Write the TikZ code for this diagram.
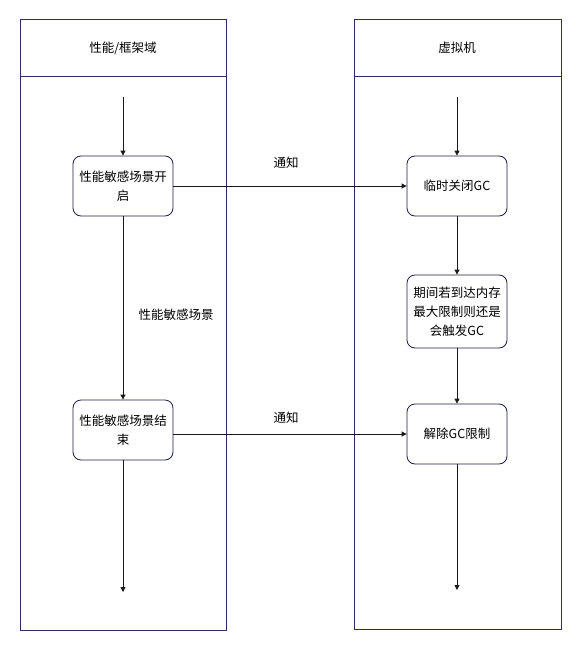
\documentclass[tikz,border=0pt]{standalone}
\usepackage{fontspec}
\setmainfont{Noto Sans CJK SC}
\usepackage{xcolor}
\usetikzlibrary{arrows.meta}

\definecolor{lanecol}{HTML}{2B2D5C}
\definecolor{boxcol}{HTML}{1C1C48}

\tikzset{
	lane/.style={draw=lanecol, line width=0.8pt},
	stepbox/.style={draw=boxcol, line width=0.8pt, rounded corners=8pt, minimum width=100pt, minimum height=60pt, align=center, inner sep=1pt, font=\fontsize{12.5}{19}\selectfont},
	flow/.style={draw=black!90, line width=0.8pt, -{Triangle[length=5pt,width=5pt]}},
	lbl/.style={font=\fontsize{12.5}{15}\selectfont}
}

\begin{document}
\begin{tikzpicture}[x=1pt,y=-1pt]

	\useasboundingbox (0,0) rectangle (582,650);

	% lanes
	\def \a {20}
	\def \b {226}
	\draw[lane] (\a,19) rectangle (\b,630);
	\draw[lane] (\a,76) -- (\b,76);
	\node[lbl] (lanea) at (123,48) {性能/框架域};
	\def \a {354}
	\def \b {561}
	\draw[lane] (\a,19) rectangle (\b,629);
	\draw[lane] (\a,76) -- (\b,76);
	\node[lbl] (laneb) at (457,48) {虚拟机};

	% left lane
	\coordinate (astart) at (123,97);
	\node[stepbox] (sceneon) at (123,186) {性能敏感场景开\\启};
	\node[stepbox] (sceneoff) at (123,430) {性能敏感场景结\\束};
	\coordinate (aend) at (123,592);

	% right lane
	\coordinate (bstart) at (457,97);
	\node[stepbox] (gcoff) at (457,186) {临时关闭GC};
	\node[stepbox, minimum height=73pt] (gcmax) at (457,311.5) {期间若到达内存\\最大限制则还是\\会触发GC};
	\node[stepbox] (gcon) at (457,434) {解除GC限制};
	\coordinate (bend) at (457,590);

	\draw[flow] (astart) -- (sceneon);
	\draw[flow] (sceneon) -- (sceneoff);
	\draw[flow] (sceneoff) -- (aend);
	\draw[flow] (bstart) -- (gcoff);
	\draw[flow] (gcoff) -- (gcmax);
	\draw[flow] (gcmax) -- (gcon);
	\draw[flow] (gcon) -- (bend);

	\draw[flow] (sceneon) -- (gcoff);
	\draw[flow] (sceneoff.east |- gcon) -- (gcon);

	\node[lbl] (tell1) at (286,163) {通知};
	\node[lbl] (tell2) at (286,418) {通知};
	\node[lbl] (during) at (176,315) {性能敏感场景};

\end{tikzpicture}
\end{document}
